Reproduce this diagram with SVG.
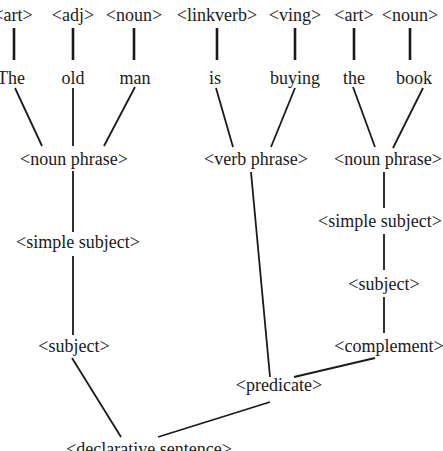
<svg xmlns="http://www.w3.org/2000/svg" width="443" height="451" viewBox="0 0 443 451">
<style>
text{font-family:"Liberation Serif","Times New Roman",serif;font-size:18px;fill:#1a1a1a;text-anchor:middle}
.c line{stroke:#1a1a1a;stroke-width:1.8;stroke-linecap:butt}
.c .b{stroke-width:2.6}
</style>
<rect width="443" height="451" fill="#fff"/>
<g class="c" id="connectors">
<line class="b" x1="14" y1="28" x2="14" y2="60"/>
<line class="b" x1="73" y1="28" x2="73" y2="60"/>
<line class="b" x1="134" y1="28" x2="134" y2="60"/>
<line class="b" x1="217" y1="28" x2="217" y2="60"/>
<line class="b" x1="295" y1="28" x2="295" y2="60"/>
<line class="b" x1="354" y1="28" x2="354" y2="60"/>
<line class="b" x1="410" y1="28" x2="410" y2="60"/>
<line x1="15" y1="88" x2="42" y2="146"/>
<line x1="73" y1="88" x2="73" y2="146"/>
<line x1="135" y1="87" x2="104" y2="146"/>
<line x1="216" y1="88" x2="233" y2="147"/>
<line x1="295" y1="88" x2="271" y2="147"/>
<line x1="353" y1="87" x2="375" y2="147"/>
<line x1="423" y1="88" x2="393" y2="148"/>
<line x1="73" y1="171" x2="73" y2="232"/>
<line x1="73" y1="256" x2="73" y2="335"/>
<line x1="384" y1="172" x2="384" y2="208"/>
<line x1="384" y1="234" x2="384" y2="270"/>
<line x1="384" y1="297" x2="384" y2="333"/>
<line x1="251" y1="172" x2="270" y2="377"/>
<line x1="375" y1="358" x2="294" y2="377"/>
<line x1="72" y1="358" x2="121" y2="437"/>
<line x1="270" y1="402" x2="158" y2="437"/>
</g>
<g id="t-art1"><text x="13" y="21">&lt;art&gt;</text></g>
<g id="t-adj"><text x="73" y="21">&lt;adj&gt;</text></g>
<g id="t-noun1"><text x="134" y="21">&lt;noun&gt;</text></g>
<g id="t-linkverb"><text x="217" y="21">&lt;linkverb&gt;</text></g>
<g id="t-ving"><text x="295" y="21">&lt;ving&gt;</text></g>
<g id="t-art2"><text x="354" y="21">&lt;art&gt;</text></g>
<g id="t-noun2"><text x="410" y="21">&lt;noun&gt;</text></g>
<g id="w-the1"><text x="11" y="84">The</text></g>
<g id="w-old"><text x="73" y="84">old</text></g>
<g id="w-man"><text x="135" y="84">man</text></g>
<g id="w-is"><text x="215" y="84">is</text></g>
<g id="w-buying"><text x="295" y="84">buying</text></g>
<g id="w-the2"><text x="354" y="84">the</text></g>
<g id="w-book"><text x="414" y="84">book</text></g>
<g id="np1"><text x="74" y="165">&lt;noun phrase&gt;</text></g>
<g id="vp"><text x="256" y="165">&lt;verb phrase&gt;</text></g>
<g id="np2"><text x="388" y="165">&lt;noun phrase&gt;</text></g>
<g id="ss1"><text x="78" y="248">&lt;simple subject&gt;</text></g>
<g id="ss2"><text x="380" y="227">&lt;simple subject&gt;</text></g>
<g id="subj2"><text x="384" y="290">&lt;subject&gt;</text></g>
<g id="subj1"><text x="74" y="352">&lt;subject&gt;</text></g>
<g id="compl"><text x="389" y="352">&lt;complement&gt;</text></g>
<g id="pred"><text x="279" y="391">&lt;predicate&gt;</text></g>
<g id="decl"><text x="149" y="455">&lt;declarative sentence&gt;</text></g>
</svg>
